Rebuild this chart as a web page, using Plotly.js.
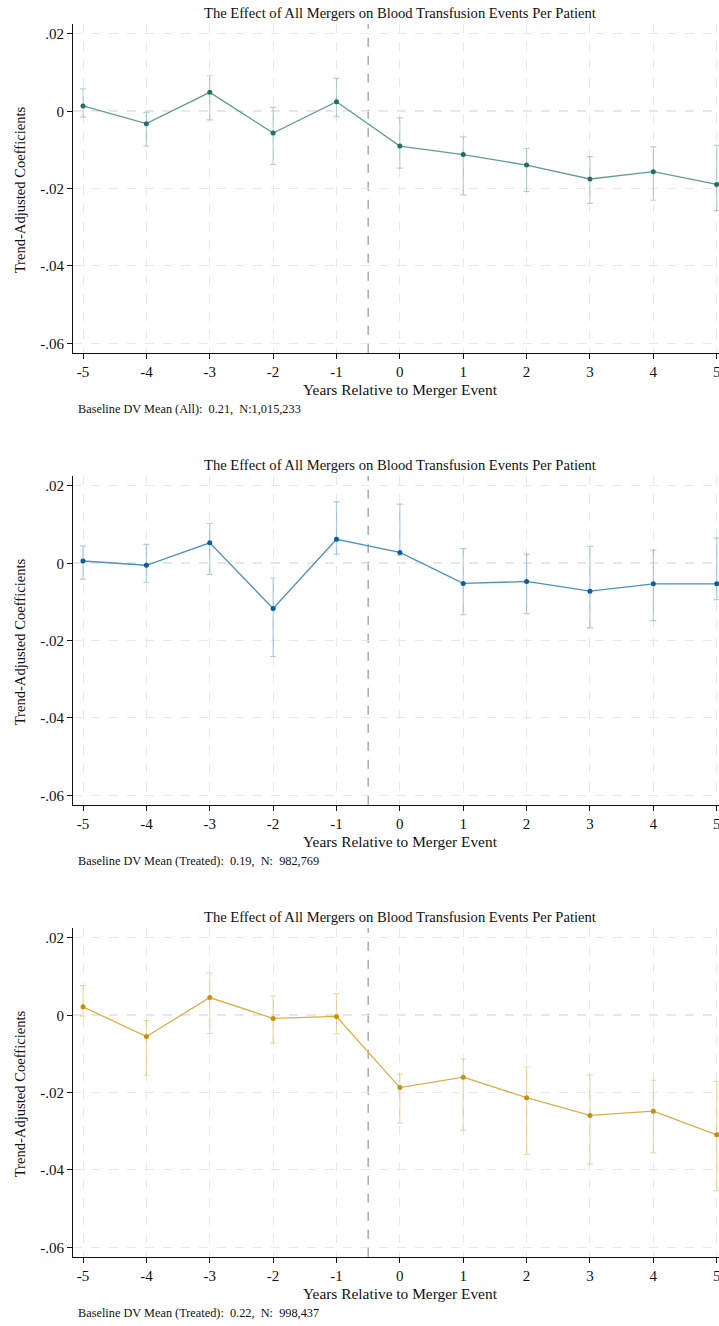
<!DOCTYPE html>
<html>
<head>
<meta charset="utf-8">
<script src="https://cdn.plot.ly/plotly-3.0.1.min.js"></script>
<style>html,body{margin:0;padding:0;background:#fff;overflow:hidden;}#chart{width:730px;height:1326px;}</style>
</head>
<body>
<div id="chart"></div>
<script>
const years = [-5, -4, -3, -2, -1, 0, 1, 2, 3, 4, 5];
const yTickVals = [0.02, 0, -0.02, -0.04, -0.06];
const yTickText = [".02", "0", "-.02", "-.04", "-.06"];
const chartTitle = "The Effect of All Mergers on Blood Transfusion Events Per Patient";
const xTitle = "Years Relative to Merger Event";
const yTitle = "Trend-Adjusted Coefficients";

// Panel 1: All
const coefAll  = [0.0014, -0.0032, 0.0049, -0.0056, 0.0025, -0.0090, -0.0112, -0.0139, -0.0175, -0.0156, -0.0189];
const upperAll = [0.0058, -0.0003, 0.0092, 0.0010, 0.0085, -0.0017, -0.0066, -0.0096, -0.0117, -0.0092, -0.0088];
const lowerAll = [-0.0015, -0.0090, -0.0022, -0.0137, -0.0013, -0.0147, -0.0216, -0.0207, -0.0238, -0.0230, -0.0257];
const noteAll = "Baseline DV Mean (All):\u00a0\u00a00.21,\u00a0\u00a0N:1,015,233";

// Panel 2: Treated (blue)
const coefT1  = [0.0006, -0.0005, 0.0053, -0.0117, 0.0062, 0.0028, -0.0052, -0.0047, -0.0072, -0.0053, -0.0053];
const upperT1 = [0.0045, 0.0049, 0.0103, -0.0038, 0.0159, 0.0153, 0.0038, 0.0024, 0.0044, 0.0034, 0.0066];
const lowerT1 = [-0.0041, -0.0049, -0.0029, -0.0241, 0.0024, 0.0021, -0.0133, -0.0130, -0.0167, -0.0148, -0.0094];
const noteT1 = "Baseline DV Mean (Treated):\u00a0\u00a00.19,\u00a0\u00a0N:\u00a0\u00a0982,769";

// Panel 3: Treated (gold)
const coefT2  = [0.0022, -0.0055, 0.0046, -0.0008, -0.0003, -0.0187, -0.0160, -0.0213, -0.0259, -0.0248, -0.0309];
const upperT2 = [0.0077, -0.0014, 0.0109, 0.0050, 0.0056, -0.0152, -0.0113, -0.0133, -0.0154, -0.0168, -0.0171];
const lowerT2 = [-0.0002, -0.0155, -0.0047, -0.0072, -0.0048, -0.0279, -0.0297, -0.0360, -0.0385, -0.0356, -0.0454];
const noteT2 = "Baseline DV Mean (Treated):\u00a0\u00a00.22,\u00a0\u00a0N:\u00a0\u00a0998,437";

const panels = [
  {coef: coefAll, upper: upperAll, lower: lowerAll, note: noteAll, line: "#5f9e98", marker: "#236f68", err: "rgba(95,158,152,0.45)"},
  {coef: coefT1, upper: upperT1, lower: lowerT1, note: noteT1, line: "#4a93c4", marker: "#0b5e9c", err: "rgba(74,147,196,0.45)"},
  {coef: coefT2, upper: upperT2, lower: lowerT2, note: noteT2, line: "#dcae48", marker: "#c98f08", err: "rgba(220,174,72,0.45)"}
];

const H = 1326, W = 730, L = 73;
const plotTops = [24, 476, 928];
const plotH = 328.7;
const FONT = "Liberation Serif, Times New Roman, serif";
const px = v => (v - L) / (W - L);

const traces = [];
const layout = {
  width: W, height: H,
  margin: {l: L, r: 0, t: 0, b: 0},
  paper_bgcolor: "#ffffff",
  plot_bgcolor: "#ffffff",
  showlegend: false,
  font: {family: FONT, size: 14, color: "#111"},
  shapes: [],
  annotations: []
};

panels.forEach((p, i) => {
  const n = i + 1;
  const xa = n === 1 ? "x" : "x" + n;
  const ya = n === 1 ? "y" : "y" + n;
  const top = plotTops[i];
  const bottom = top + plotH;
  traces.push({
    type: "scatter", mode: "lines+markers",
    x: years, y: p.coef, xaxis: xa, yaxis: ya,
    line: {color: p.line, width: 1.3},
    marker: {color: p.marker, size: 5, symbol: "circle"},
    error_y: {
      type: "data", symmetric: false,
      array: p.upper.map((u, k) => u - p.coef[k]),
      arrayminus: p.coef.map((c, k) => c - p.lower[k]),
      color: p.err, thickness: 1.2, width: 3
    },
    hoverinfo: "skip"
  });
  const xKey = n === 1 ? "xaxis" : "xaxis" + n;
  const yKey = n === 1 ? "yaxis" : "yaxis" + n;
  layout[xKey] = {
    domain: [0, 1], anchor: ya,
    range: [-5.158, 5.21],
    tickvals: years, ticktext: years.map(String),
    ticks: "outside", ticklen: 5, tickcolor: "#111", tickwidth: 1,
    showline: true, linecolor: "#111", linewidth: 1,
    showgrid: true, gridcolor: "#e8e8e8", gridwidth: 1, griddash: "dash",
    zeroline: false,
    tickfont: {family: FONT, size: 15, color: "#111"}
  };
  layout[yKey] = {
    domain: [1 - bottom / H, 1 - top / H], anchor: xa,
    range: [-0.06243, 0.02258],
    tickvals: yTickVals, ticktext: yTickText,
    ticks: "outside", ticklen: 5, tickcolor: "#111", tickwidth: 1,
    showline: true, linecolor: "#111", linewidth: 1,
    showgrid: true, gridcolor: "#e8e8e8", gridwidth: 1, griddash: "dash",
    zeroline: false,
    tickfont: {family: FONT, size: 15, color: "#111"}
  };
  layout.shapes.push({
    type: "line", xref: xa + " domain", yref: ya,
    x0: 0, x1: 1, y0: 0, y1: 0,
    line: {color: "#9c9c9c", width: 1.3, dash: "dash"}, layer: "below"
  });
  layout.shapes.push({
    type: "line", xref: xa, yref: ya + " domain",
    x0: -0.5, x1: -0.5, y0: 0, y1: 1,
    line: {color: "#9c9c9c", width: 1.3, dash: "dash"}, layer: "below"
  });
  layout.annotations.push({
    text: chartTitle, xref: "paper", yref: "paper",
    x: px(400), y: 1 - (top - 11) / H, xanchor: "center", yanchor: "middle",
    showarrow: false, font: {family: FONT, size: 14.6, color: "#111"}
  });
  layout.annotations.push({
    text: xTitle, xref: "paper", yref: "paper",
    x: px(400), y: 1 - (bottom + 37) / H, xanchor: "center", yanchor: "middle",
    showarrow: false, font: {family: FONT, size: 15.4, color: "#111"}
  });
  layout.annotations.push({
    text: yTitle, xref: "paper", yref: "paper",
    x: px(20), y: 1 - (top + plotH / 2 + 2) / H, xanchor: "center", yanchor: "middle",
    textangle: -90,
    showarrow: false, font: {family: FONT, size: 14.6, color: "#111"}
  });
  layout.annotations.push({
    text: p.note, xref: "paper", yref: "paper",
    x: px(76), y: 1 - (bottom + 56) / H, xanchor: "left", yanchor: "middle",
    showarrow: false, font: {family: FONT, size: 12.3, color: "#111"}
  });
});

Plotly.newPlot("chart", traces, layout, {displayModeBar: false, staticPlot: true});
</script>
</body>
</html>
